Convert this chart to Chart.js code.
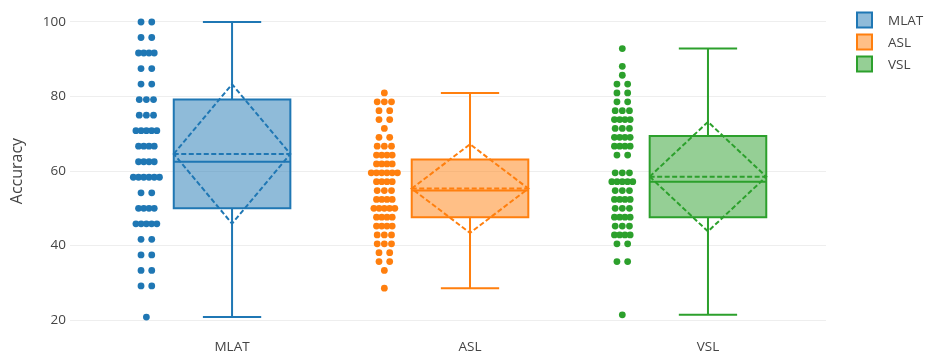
<!DOCTYPE html>
<html>
<head>
<meta charset="utf-8">
<title>Accuracy by method</title>
<script src="https://cdn.jsdelivr.net/npm/chart.js@4.4.1/dist/chart.umd.min.js"></script>
<style>
  html, body { margin: 0; padding: 0; background: #ffffff; }
  #wrap { width: 927px; height: 353px; position: relative; }
</style>
</head>
<body>
<div id="wrap"><canvas id="chart" width="927" height="353"></canvas></div>
<script>
// ---- data ----
const categories = ['MLAT', 'ASL', 'VSL'];
const yTickValues = [20, 40, 60, 80, 100];

// individual accuracy scores per method
const mlatScores = [
  100, 100, 95.83, 95.83, 91.67, 91.67, 91.67, 91.67, 87.5, 87.5,
  83.33, 83.33, 79.17, 79.17, 79.17, 75, 75, 75,
  70.83, 70.83, 70.83, 70.83, 70.83, 66.67, 66.67, 66.67, 66.67,
  62.5, 62.5, 62.5, 62.5, 58.33, 58.33, 58.33, 58.33, 58.33, 58.33,
  54.17, 54.17, 50, 50, 50, 50, 45.83, 45.83, 45.83, 45.83, 45.83,
  41.67, 41.67, 37.5, 37.5, 33.33, 33.33, 29.17, 29.17, 20.83
];
const aslScores = [
  80.95, 78.57, 78.57, 78.57, 76.19, 76.19, 73.81, 73.81, 71.43,
  69.05, 69.05, 66.67, 66.67, 66.67, 64.29, 64.29, 64.29, 64.29,
  61.9, 61.9, 61.9, 61.9, 59.52, 59.52, 59.52, 59.52, 59.52, 59.52,
  57.14, 57.14, 57.14, 57.14, 54.76, 54.76, 54.76,
  52.38, 52.38, 52.38, 52.38, 50, 50, 50, 50, 50,
  47.62, 47.62, 47.62, 47.62, 45.24, 45.24, 45.24, 45.24,
  42.86, 42.86, 42.86, 40.48, 40.48, 40.48, 38.1, 38.1,
  35.71, 35.71, 33.33, 28.57
];
const vslScores = [
  92.86, 88.1, 85.71, 83.33, 83.33, 80.95, 80.95, 78.57, 78.57,
  76.19, 76.19, 76.19, 73.81, 73.81, 73.81, 73.81, 71.43, 71.43, 71.43,
  69.05, 69.05, 69.05, 69.05, 66.67, 66.67, 66.67, 66.67, 64.29, 64.29,
  59.52, 59.52, 59.52, 57.14, 57.14, 57.14, 57.14, 57.14,
  54.76, 54.76, 54.76, 52.38, 52.38, 52.38, 52.38, 50, 50, 50,
  47.62, 47.62, 47.62, 47.62, 45.24, 45.24, 45.24,
  42.86, 42.86, 42.86, 42.86, 40.48, 40.48, 35.71, 35.71, 21.43
];

// box statistics per method (same order as categories)
const whiskerLow  = [20.83, 28.57, 21.43];
const quartile1   = [50, 47.62, 47.62];
const medians     = [62.5, 54.76, 57.14];
const quartile3   = [79.17, 63.1, 69.4];
const whiskerHigh = [100, 80.95, 92.86];
const means       = [64.6, 55.3, 58.5];
const stdDevs     = [18.7, 11.9, 14.7];

// ---- styling ----
const seriesColors = ['#1f77b4', '#ff7f0e', '#2ca02c'];
const seriesFills  = ['rgba(31,119,180,0.5)', 'rgba(255,127,14,0.5)', 'rgba(44,160,44,0.5)'];
const BOX_WIDTH = 0.49;     // in category units
const POINT_POS = -0.36;    // point column offset from the box centre
const FONT = "'Open Sans', 'Noto Sans', sans-serif";
const TEXT_COLOR = '#444444';

// spread equal scores side by side so they stay visible
function rowOffsets(n) {
  let step = 0;
  if (n === 2) step = 0.045;
  else if (n > 2) step = Math.max(0.022, 0.06 / (n - 1));
  const out = [];
  for (let k = 0; k < n; k++) out.push((k - (n - 1) / 2) * step);
  return out;
}
function pointCloud(scores, index) {
  const counts = {};
  scores.forEach(v => { counts[v] = (counts[v] || 0) + 1; });
  const used = {};
  return scores.map(v => {
    const k = used[v] || 0;
    used[v] = k + 1;
    return { x: index + POINT_POS + rowOffsets(counts[v])[k], y: v };
  });
}

const allScores = [mlatScores, aslScores, vslScores];

// boxes, whiskers, median and mean ± SD diamond
const boxPlotPlugin = {
  id: 'boxPlot',
  beforeDatasetsDraw(chart) {
    const { ctx, scales: { x, y } } = chart;
    categories.forEach((name, i) => {
      const xl = x.getPixelForValue(i - BOX_WIDTH / 2);
      const xr = x.getPixelForValue(i + BOX_WIDTH / 2);
      const xc = x.getPixelForValue(i);
      const cap = (xr - xl) / 4;
      const yLo = y.getPixelForValue(whiskerLow[i]);
      const yQ1 = y.getPixelForValue(quartile1[i]);
      const yMed = y.getPixelForValue(medians[i]);
      const yQ3 = y.getPixelForValue(quartile3[i]);
      const yHi = y.getPixelForValue(whiskerHigh[i]);
      const yMean = y.getPixelForValue(means[i]);
      const ySdHi = y.getPixelForValue(means[i] + stdDevs[i]);
      const ySdLo = y.getPixelForValue(means[i] - stdDevs[i]);

      ctx.save();
      ctx.lineWidth = 2;
      ctx.strokeStyle = seriesColors[i];
      ctx.fillStyle = seriesFills[i];
      ctx.lineJoin = 'miter';

      ctx.fillRect(xl, yQ3, xr - xl, yQ1 - yQ3);
      ctx.beginPath();
      ctx.rect(xl, yQ3, xr - xl, yQ1 - yQ3);
      // median
      ctx.moveTo(xl, yMed); ctx.lineTo(xr, yMed);
      // whiskers and caps
      ctx.moveTo(xc, yQ3); ctx.lineTo(xc, yHi);
      ctx.moveTo(xc - cap, yHi); ctx.lineTo(xc + cap, yHi);
      ctx.moveTo(xc, yQ1); ctx.lineTo(xc, yLo);
      ctx.moveTo(xc - cap, yLo); ctx.lineTo(xc + cap, yLo);
      ctx.stroke();

      // mean line and SD diamond, dashed
      ctx.setLineDash([5, 2.5]);
      ctx.beginPath();
      ctx.moveTo(xl, yMean); ctx.lineTo(xr, yMean);
      ctx.stroke();
      ctx.beginPath();
      ctx.moveTo(xl, yMean);
      ctx.lineTo(xc, ySdHi);
      ctx.lineTo(xr, yMean);
      ctx.lineTo(xc, ySdLo);
      ctx.closePath();
      ctx.stroke();
      ctx.restore();
    });
  }
};

// legend in the right margin
const legendPlugin = {
  id: 'boxLegend',
  afterDraw(chart) {
    const { ctx, chartArea } = chart;
    const bx = chartArea.right + 31;
    ctx.save();
    ctx.font = '13.5px ' + FONT;
    ctx.textBaseline = 'middle';
    ctx.textAlign = 'left';
    categories.forEach((name, i) => {
      const cy = 20 + i * 22;
      ctx.fillStyle = seriesFills[i];
      ctx.fillRect(bx, cy - 7.5, 15, 15);
      ctx.lineWidth = 2;
      ctx.strokeStyle = seriesColors[i];
      ctx.strokeRect(bx, cy - 7.5, 15, 15);
      ctx.fillStyle = TEXT_COLOR;
      ctx.fillText(name, bx + 31, cy + 1);
    });
    ctx.restore();
  }
};

const datasets = categories.map((name, i) => ({
  label: name,
  data: pointCloud(allScores[i], i),
  backgroundColor: seriesColors[i],
  borderWidth: 0,
  pointRadius: 3.4,
  pointHoverRadius: 3.4
}));

new Chart(document.getElementById('chart'), {
  type: 'scatter',
  data: { datasets },
  plugins: [boxPlotPlugin, legendPlugin],
  options: {
    responsive: false,
    animation: false,
    layout: { padding: { left: 4, right: 101, top: 8, bottom: 0 } },
    plugins: {
      legend: { display: false },
      tooltip: { enabled: false }
    },
    scales: {
      x: {
        type: 'linear',
        min: -0.681,
        max: 2.496,
        grid: { display: false, drawTicks: false },
        border: { display: false },
        afterBuildTicks(scale) {
          scale.ticks = categories.map((c, i) => ({ value: i }));
        },
        afterFit(scale) { scale.height = 23; },
        ticks: {
          padding: 9,
          color: TEXT_COLOR,
          font: { family: FONT, size: 13.5 },
          maxRotation: 0,
          callback: (v) => categories[v]
        }
      },
      y: {
        type: 'linear',
        min: 17.35,
        max: 102.65,
        grid: { color: '#eeeeee', lineWidth: 1, drawTicks: false },
        border: { display: false },
        afterBuildTicks(scale) {
          scale.ticks = yTickValues.map(v => ({ value: v }));
        },
        afterFit(scale) { scale.width = 66; },
        ticks: {
          padding: 4,
          color: TEXT_COLOR,
          font: { family: FONT, size: 13.5 }
        },
        title: {
          display: true,
          text: 'Accuracy',
          color: TEXT_COLOR,
          font: { family: FONT, size: 16 },
          padding: { top: 4, bottom: 4 }
        }
      }
    }
  }
});
</script>
</body>
</html>
